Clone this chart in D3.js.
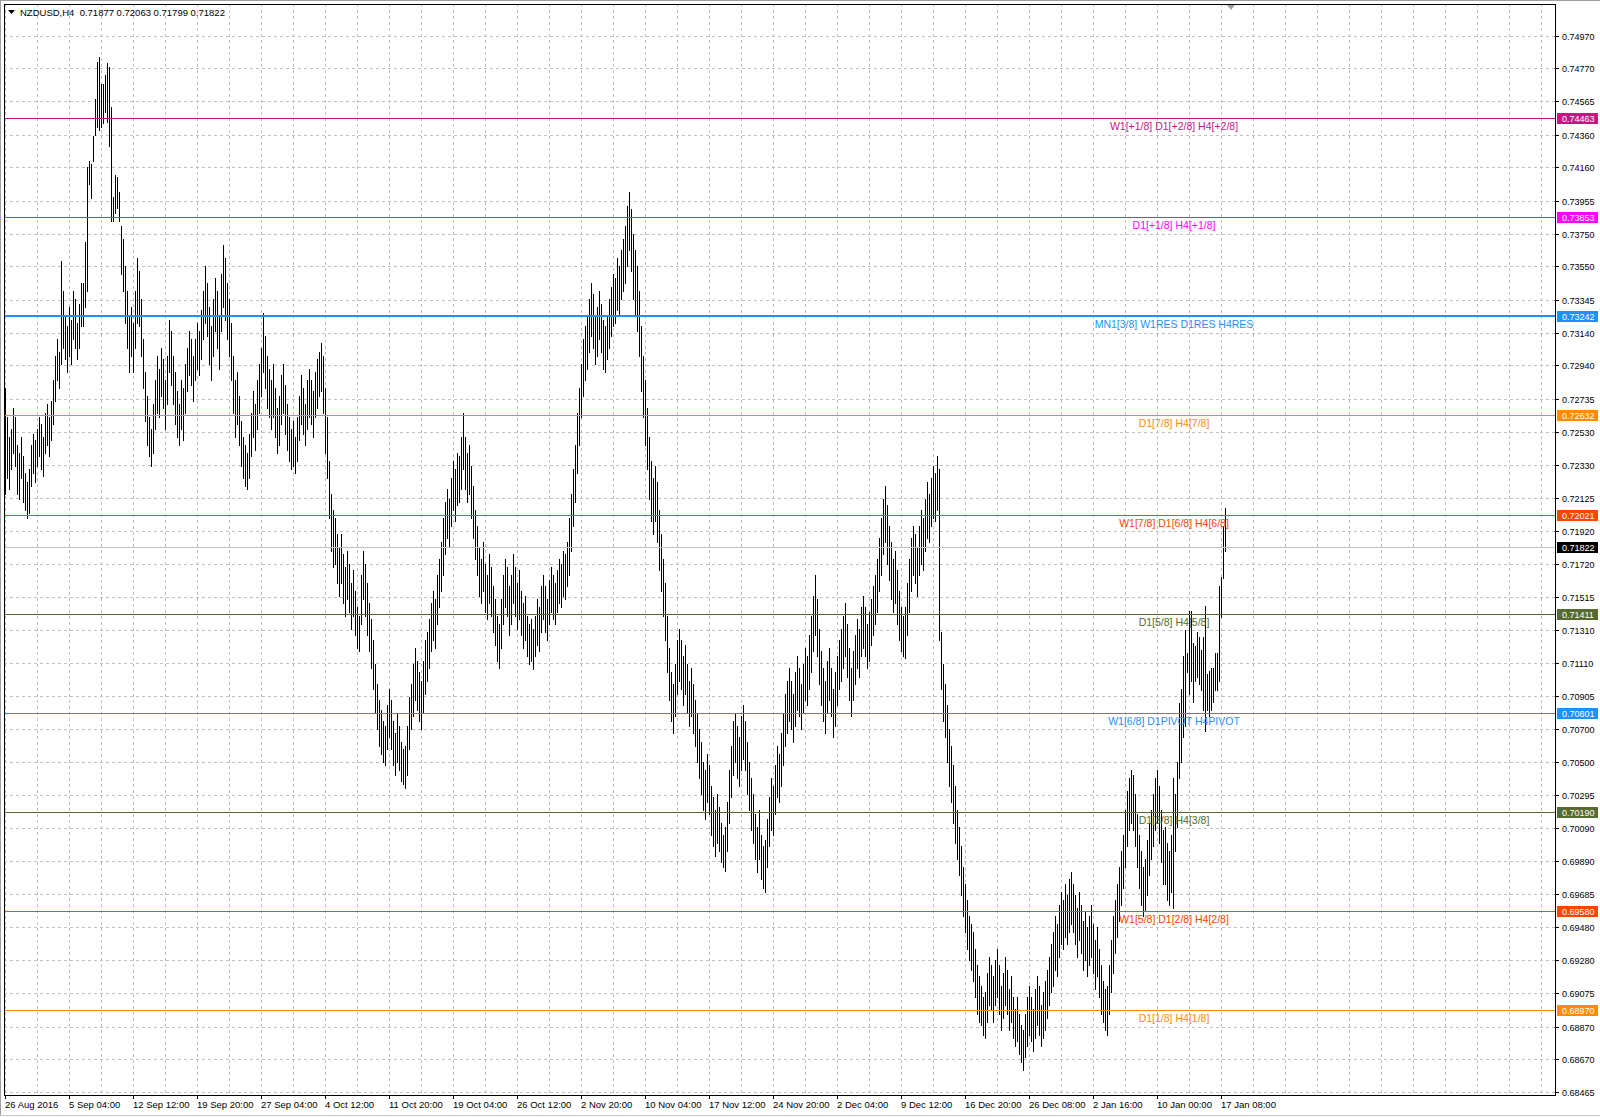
<!DOCTYPE html>
<html><head><meta charset="utf-8">
<script src="https://cdn.jsdelivr.net/npm/d3@7"></script>
<style>html,body{margin:0;padding:0;background:#fff;} svg{display:block;} text{white-space:pre;}</style>
</head><body>
<svg id="c" width="1600" height="1118"></svg>
<script>
// ---------------- DATA ----------------
const symbol = "NZDUSD,H4";
const lastOHLC = ["0.71877", "0.72063", "0.71799", "0.71822"];

const yTicks = [0.74970,0.74770,0.74565,0.74360,0.74160,0.73955,0.73750,0.73550,0.73345,0.73140,0.72940,
  0.72735,0.72530,0.72330,0.72125,0.71920,0.71720,0.71515,0.71310,0.71110,0.70905,0.70700,0.70500,
  0.70295,0.70090,0.69890,0.69685,0.69480,0.69280,0.69075,0.68870,0.68670,0.68465];

const xLabels = ["26 Aug 2016","5 Sep 04:00","12 Sep 12:00","19 Sep 20:00","27 Sep 04:00","4 Oct 12:00",
  "11 Oct 20:00","19 Oct 04:00","26 Oct 12:00","2 Nov 20:00","10 Nov 04:00","17 Nov 12:00","24 Nov 20:00",
  "2 Dec 04:00","9 Dec 12:00","16 Dec 20:00","26 Dec 08:00","2 Jan 16:00","10 Jan 00:00","17 Jan 08:00"];
const barsPerLabel = 32;

// H4 bar highs / lows in pips (x 0.0001)
const highs = [
7280,7262,7250,7255,7268,7262,7245,7240,7250,7238,7228,7222,7230,7245,7252,7248,7255,7262,7258,7250,7265,7270,7262,7272,
7285,7300,7310,7302,7358,7340,7325,7318,7330,7322,7340,7335,7320,7332,7345,7345,7370,7416,
7420,7418,7435,7458,7481,7484,7467,7467,7473,7480,7478,7453,7398,7411,7410,7401,7380,
7372,7355,7340,7325,7330,7320,7340,7360,7352,7335,7310,7290,7275,7262,7255,
7270,7285,7300,7292,7305,7298,7285,7300,7322,7315,7300,7290,7278,7270,7285,7280,7295,7305,7315,7310,7300,7310,7320,7315,7328,7340,7355,
7345,7330,7318,7335,7348,7340,7325,7350,7368,7360,7345,7335,7320,7300,7285,7290,7275,7260,7250,7245,7240,
7252,7265,7278,7270,7285,7295,7305,7326,7312,7300,7292,7285,7295,7280,7268,7275,7288,7295,7282,7270,7262,7255,7260,7250,
7262,7275,7288,7280,7270,7285,7292,7285,7278,7290,7298,7302,7308,7300,7280,7262,
7235,7215,7205,7200,7190,7182,7190,7178,7170,7180,7172,7160,7168,7155,7145,7140,
7165,7180,7172,7160,7148,7138,7125,7110,7098,7088,7082,7075,7072,
7085,7095,7088,7075,7068,7080,7072,7062,7058,7060,7072,7090,7098,7110,7120,7112,7105,7100,7112,7125,7130,7138,
7148,7155,7150,7165,7175,7185,7200,7210,7218,7212,7225,7235,7230,7240,7238,7250,7265,
7250,7240,7245,7232,7220,7205,7195,7182,7175,7185,7172,7165,7178,7170,7158,7150,7140,7135,
7150,7165,7175,7170,7158,7165,7178,7170,7160,7168,7155,7148,7152,7140,7135,7138,7132,
7140,7150,7145,7158,7165,7158,7150,7162,7170,7165,7160,7168,7175,7172,7180,7178,7185,
7200,7215,7230,7245,7265,7280,7295,7310,7318,7325,
7335,7345,7338,7325,7330,7340,7332,7322,7318,7325,7335,7342,7350,
7348,7360,7355,7365,7372,7380,7392,7401,
7390,7375,7365,7355,7340,7318,7300,7285,7268,7250,7235,7225,7232,7222,7205,7190,7175,7160,7140,7120,7105,7098,
7110,7125,7132,7125,7115,7122,7110,7100,7108,7098,7088,7080,7070,7062,7050,7045,7055,7048,7035,7028,7020,7030,7022,7012,7005,7010,
7025,7045,7060,7075,7080,7072,7065,7078,7085,7075,7062,7050,7040,7030,7018,7010,7020,7005,6998,7002,
7015,7028,7040,7035,7048,7060,7055,7068,7080,7092,7100,7108,7100,7092,7105,7115,7108,7098,7110,7120,7115,7128,7140,7152,7165,
7150,7132,7118,7108,7100,7112,7120,7108,7095,7105,7115,7125,7132,7140,7148,
7135,7120,7108,7118,7128,7138,7132,7145,7152,7145,7135,7142,7150,7158,7165,7175,7188,7200,7212,7220,
7208,7195,7185,7175,7180,7168,7155,7145,7140,7145,
7160,7175,7188,7195,7190,7182,7195,7205,7200,7212,7222,7215,7225,7232,7228,7238,
7230,7130,7110,7098,7085,7070,7060,7048,7035,7020,7010,6998,6985,6975,6965,6955,6950,6945,6935,6925,6918,6912,6905,6908,
6920,6930,6925,6918,6928,6935,6925,6912,6920,6930,6922,6910,6918,6905,6898,6905,6895,6888,6885,
6895,6905,6912,6905,6898,6910,6918,6912,6900,6908,6915,6922,6930,6938,
6945,6955,6950,6962,6970,6965,6975,6968,6978,6982,
6975,6968,6960,6970,6962,6952,6958,6948,6955,6962,6950,6940,6948,6935,6925,6915,6910,6912,
6925,6940,6955,6965,6975,6985,6995,7005,
7020,7032,7040,7045,7042,7030,7018,7005,6995,6985,6990,7002,7012,7020,7030,7040,7045,7035,7020,7008,
7010,7000,6995,7005,7040,7030,7050,7086,7095,7115,
7131,7117,7143,7143,7123,7121,7130,7127,7119,7127,7146,7104,7106,7108,7108,7117,7117,7158,7164,7195,7206];

const lows = [
7215,7225,7218,7230,7240,7232,7215,7212,7225,7210,7205,7200,7203,7220,7228,7222,7232,7238,7230,7226,7240,7245,7238,7248,
7258,7272,7285,7280,7295,7305,7298,7290,7300,7295,7310,7305,7298,7305,7318,7318,7330,7340,
7406,7397,7420,7436,7441,7439,7441,7443,7450,7444,7429,7383,7383,7388,7391,7383,7350,
7340,7320,7305,7290,7300,7290,7305,7320,7318,7300,7280,7260,7245,7238,7232,
7240,7255,7265,7262,7275,7268,7255,7270,7290,7282,7270,7258,7250,7245,7255,7248,7265,7278,7288,7282,7272,7285,7292,7288,7298,7310,7320,
7312,7295,7285,7300,7315,7305,7292,7315,7330,7322,7310,7300,7285,7265,7250,7258,7245,7232,7225,7220,7218,
7225,7238,7250,7242,7255,7265,7275,7290,7280,7268,7262,7255,7262,7250,7240,7245,7258,7265,7252,7242,7235,7230,7232,7228,
7235,7248,7258,7252,7245,7255,7262,7258,7250,7262,7268,7275,7278,7265,7240,7225,
7200,7180,7170,7172,7160,7152,7160,7148,7140,7150,7142,7132,7140,7128,7120,7118,
7135,7150,7140,7128,7118,7108,7095,7080,7070,7060,7055,7050,7048,
7058,7065,7058,7048,7042,7050,7045,7038,7036,7034,7042,7058,7070,7078,7088,7082,7075,7070,7080,7092,7100,7108,
7118,7125,7120,7135,7145,7155,7165,7178,7188,7182,7195,7205,7198,7208,7210,7218,7230,
7218,7210,7215,7200,7188,7175,7165,7152,7148,7155,7142,7138,7148,7140,7130,7122,7112,7108,
7120,7135,7145,7140,7128,7135,7148,7140,7132,7138,7128,7120,7125,7115,7110,7112,7107,
7115,7122,7118,7130,7138,7130,7125,7135,7142,7138,7135,7142,7148,7145,7152,7150,7158,
7165,7180,7195,7210,7228,7245,7262,7275,7285,7292,
7302,7312,7305,7295,7300,7310,7302,7292,7290,7298,7305,7312,7318,
7320,7328,7325,7335,7340,7345,7355,7365,
7352,7335,7325,7315,7300,7278,7262,7245,7230,7212,7198,7190,7198,7185,7168,7155,7140,7125,7105,7088,7075,7068,
7078,7092,7100,7095,7085,7092,7080,7072,7078,7068,7060,7050,7040,7030,7020,7015,7025,7018,7005,6998,6992,7000,6995,6988,6985,6983,
6995,7012,7028,7042,7050,7040,7035,7045,7052,7045,7030,7020,7008,7000,6990,6982,6990,6978,6972,6970,
6985,6998,7008,7005,7018,7028,7025,7035,7048,7060,7068,7075,7070,7062,7072,7082,7078,7070,7080,7088,7085,7095,7105,7118,7128,
7115,7098,7085,7075,7068,7080,7088,7078,7065,7072,7085,7095,7100,7108,7115,
7102,7088,7078,7088,7098,7108,7102,7115,7120,7115,7108,7112,7122,7128,7135,7142,7155,7165,7178,7185,
7172,7162,7150,7142,7148,7135,7125,7118,7115,7114,
7128,7142,7155,7165,7160,7152,7165,7172,7168,7180,7188,7185,7195,7200,7198,7205,
7125,7095,7075,7065,7050,7035,7025,7012,7000,6990,6980,6968,6955,6945,6935,6928,6922,6915,6905,6895,6890,6888,6882,6880,
6890,6900,6898,6890,6900,6905,6895,6885,6892,6900,6895,6885,6890,6880,6875,6878,6870,6865,6860,
6868,6875,6882,6878,6872,6880,6888,6882,6875,6880,6885,6892,6900,6908,
6912,6922,6918,6930,6938,6935,6942,6938,6945,6950,
6945,6938,6930,6940,6932,6922,6928,6918,6925,6930,6920,6910,6918,6905,6895,6890,6885,6882,
6895,6908,6920,6932,6942,6952,6962,6972,
6985,6998,7008,7012,7008,6998,6985,6972,6962,6955,6958,6968,6980,6990,6998,7008,7012,7000,6988,6975,
6975,6965,6962,6970,6960,6995,7010,7040,7050,7065,
7072,7105,7092,7100,7087,7100,7102,7098,7094,7082,7069,7082,7078,7082,7087,7094,7094,7100,7139,7163,7180];

// Murrey math level lines
const levelPrices = [0.74463, 0.73853, 0.73242, 0.72632, 0.72021, 0.71411, 0.70801, 0.70190, 0.69580, 0.68970];
const levelLabels = ["W1[+1/8] D1[+2/8] H4[+2/8]", "D1[+1/8] H4[+1/8]", "MN1[3/8] W1RES D1RES H4RES",
  "D1[7/8] H4[7/8]", "W1[7/8] D1[6/8] H4[6/8]", "D1[5/8] H4[5/8]", "W1[6/8] D1PIVOT H4PIVOT",
  "D1[3/8] H4[3/8]", "W1[5/8] D1[2/8] H4[2/8]", "D1[1/8] H4[1/8]"];
const bidPrice = 0.71822;

// ---------------- STYLE ----------------
const levelColors = ["#C71585", "#FF00FF", "#1E90FF", "#FF8C00", "#FF4500", "#556B2F", "#1E90FF", "#556B2F", "#FF4500", "#FF8C00"];
const levelWidths = [1, 1, 2, 1, 1, 1, 1, 1, 1, 1];
const FONT = "'Liberation Sans', Arial, sans-serif";

// ---------------- DRAW ----------------
const svg = d3.select("#c");
const L = 4, R = 1555, T = 4, B = 1095;
const x = d3.scaleLinear().domain([0, 775]).range([5, 1555]);
const y = d3.scaleLinear().domain([0.68465, 0.74970]).range([1092.3, 35.7]);
const py = v => Math.round(y(v)) + 0.5;

// window frame
svg.append("rect").attr("x", 0).attr("y", 0).attr("width", 1600).attr("height", 1118).attr("fill", "#fff");
svg.append("line").attr("x1", 0.5).attr("x2", 0.5).attr("y1", 0).attr("y2", 1116).attr("stroke", "#a0a0a0");
svg.append("line").attr("x1", 0).attr("x2", 1600).attr("y1", 0.5).attr("y2", 0.5).attr("stroke", "#a0a0a0");
svg.append("line").attr("x1", 0).attr("x2", 1600).attr("y1", 1115.5).attr("y2", 1115.5).attr("stroke", "#c8c8c8");

svg.append("defs").append("clipPath").attr("id", "plot")
  .append("rect").attr("x", L + 1).attr("y", T + 1).attr("width", R - L - 1).attr("height", B - T - 1);
const plot = svg.append("g").attr("clip-path", "url(#plot)");

// grid
plot.append("g").selectAll("line").data(yTicks).join("line")
  .attr("x1", L).attr("x2", R).attr("y1", d => py(d)).attr("y2", d => py(d))
  .attr("stroke", "#c0c0c0").attr("stroke-dasharray", "3,3");
plot.append("g").selectAll("line").data(d3.range(0, 776, 16)).join("line")
  .attr("x1", d => Math.round(x(d)) + 0.5).attr("x2", d => Math.round(x(d)) + 0.5)
  .attr("y1", T).attr("y2", B).attr("stroke", "#c0c0c0").attr("stroke-dasharray", "3,3");

// bars
const n = Math.min(highs.length, lows.length);
const bars = d3.range(n).map(i => ({i, h: highs[i] / 10000, l: lows[i] / 10000}));
plot.append("g").selectAll("line").data(bars).join("line")
  .attr("x1", d => Math.round(x(d.i)) + 0.5).attr("x2", d => Math.round(x(d.i)) + 0.5)
  .attr("y1", d => Math.round(y(d.h))).attr("y2", d => Math.round(y(d.l)) + 1)
  .attr("stroke", "#000").attr("stroke-width", 1);

// bid line
plot.append("line").attr("x1", L).attr("x2", R).attr("y1", py(bidPrice)).attr("y2", py(bidPrice))
  .attr("stroke", "#c0c0c0");

// level lines
const lv = levelPrices.map((p, k) => ({p, label: levelLabels[k], color: levelColors[k], w: levelWidths[k]}));
plot.append("g").selectAll("line").data(lv).join("line")
  .attr("x1", L).attr("x2", R)
  .attr("y1", d => d.w === 2 ? Math.round(y(d.p)) : py(d.p))
  .attr("y2", d => d.w === 2 ? Math.round(y(d.p)) : py(d.p))
  .attr("stroke", d => d.color).attr("stroke-width", d => d.w);
plot.append("g").selectAll("text").data(lv).join("text")
  .attr("x", 1174).attr("y", d => Math.round(y(d.p)) + 12)
  .attr("text-anchor", "middle").attr("font-family", FONT).attr("font-size", "10.5px")
  .attr("fill", d => d.color).text(d => d.label);

// plot border
svg.append("rect").attr("x", L + 0.5).attr("y", T + 0.5).attr("width", R - L).attr("height", B - T)
  .attr("fill", "none").attr("stroke", "#000");

// chart-shift marker
svg.append("path").attr("d", `M${x(n - 1) + 2},${T + 1} l8,0 l-4,5 z`).attr("fill", "#a0a0a0");

// y axis
const ya = svg.append("g");
ya.selectAll("line").data(yTicks).join("line")
  .attr("x1", R).attr("x2", R + 4).attr("y1", d => py(d)).attr("y2", d => py(d)).attr("stroke", "#000");
ya.selectAll("text").data(yTicks).join("text")
  .attr("x", 1562).attr("y", d => Math.round(y(d)) + 4)
  .attr("font-family", FONT).attr("font-size", "9px").attr("fill", "#000")
  .text(d => d.toFixed(5));

// price boxes
const boxes = lv.map(d => ({p: d.p, color: d.color})).concat([{p: bidPrice, color: "#000"}]);
const bg = svg.append("g");
bg.selectAll("rect").data(boxes).join("rect")
  .attr("x", 1557).attr("y", d => Math.round(y(d.p)) - 5).attr("width", 41).attr("height", 11)
  .attr("fill", d => d.color);
bg.selectAll("text").data(boxes).join("text")
  .attr("x", 1562).attr("y", d => Math.round(y(d.p)) + 4)
  .attr("font-family", FONT).attr("font-size", "9px").attr("fill", "#fff")
  .text(d => d.p.toFixed(5));

// x axis
const xa = svg.append("g");
const xt = xLabels.map((s, k) => ({s, i: k * barsPerLabel}));
xa.selectAll("line").data(xt).join("line")
  .attr("x1", d => Math.round(x(d.i)) + 0.5).attr("x2", d => Math.round(x(d.i)) + 0.5)
  .attr("y1", B).attr("y2", B + 4).attr("stroke", "#000");
xa.selectAll("text").data(xt).join("text")
  .attr("x", d => Math.round(x(d.i))).attr("y", 1108)
  .attr("font-family", FONT).attr("font-size", "9.5px").attr("fill", "#000")
  .text(d => d.s);

// header
svg.append("path").attr("d", "M8,10 l7,0 l-3.5,4 z").attr("fill", "#000");
svg.append("text").attr("x", 20).attr("y", 16).attr("font-family", FONT).attr("font-size", "9.5px")
  .attr("fill", "#000").text(symbol + "  " + lastOHLC.join(" "));
</script>
</body></html>
